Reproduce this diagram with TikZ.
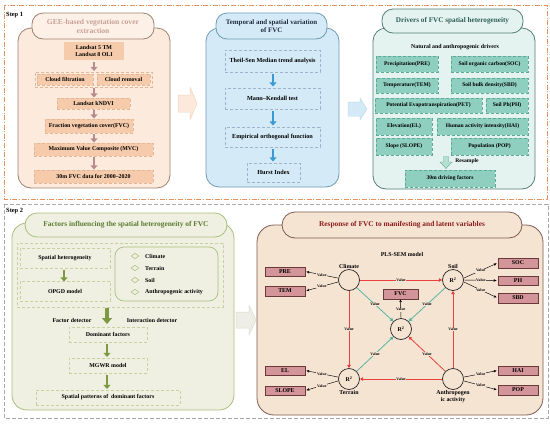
\documentclass[tikz,border=0pt]{standalone}
\usepackage{fontspec}
\setmainfont{Liberation Serif}
\usetikzlibrary{arrows.meta,shapes.geometric}
\definecolor{stepone}{HTML}{E8925E}
\definecolor{steptwo}{HTML}{A8A8A8}
\definecolor{pAfill}{HTML}{FCEBDD}
\definecolor{pAdraw}{HTML}{9E8070}
\definecolor{pAtitle}{HTML}{C8A095}
\definecolor{pAbox}{HTML}{F6CBAC}
\definecolor{pAboxd}{HTML}{E2B696}
\definecolor{pAarrow}{HTML}{B68C8E}
\definecolor{pBfill}{HTML}{D4EBF7}
\definecolor{pBdraw}{HTML}{6C9BB2}
\definecolor{pBboxd}{HTML}{9AB6C8}
\definecolor{pBarrow}{HTML}{3A9AD5}
\definecolor{pBtitle}{HTML}{1C2C3C}
\definecolor{pCfill}{HTML}{E4F3F0}
\definecolor{pCdraw}{HTML}{557E76}
\definecolor{pCtitle}{HTML}{2D5F55}
\definecolor{pCbox}{HTML}{8FCFBF}
\definecolor{pCboxd}{HTML}{5DAA98}
\definecolor{pCarrow}{HTML}{B5E0D0}
\definecolor{pDfill}{HTML}{EFF0E2}
\definecolor{pDdraw}{HTML}{A9BF7B}
\definecolor{pDtitle}{HTML}{5C7A2F}
\definecolor{pDboxd}{HTML}{C7D1A2}
\definecolor{pDarrow}{HTML}{7D9A43}
\definecolor{pEfill}{HTML}{F6E4D3}
\definecolor{pEdraw}{HTML}{7D5A50}
\definecolor{pEtitle}{HTML}{8A1B1B}
\definecolor{pEbox}{HTML}{D4959A}
\definecolor{pEboxd}{HTML}{6A3A3A}
\definecolor{tealline}{HTML}{4FB3A0}
\definecolor{redline}{HTML}{E8413C}
\definecolor{arrA}{HTML}{FDE9DC}
\definecolor{arrAd}{HTML}{F3D3BE}
\definecolor{arrB}{HTML}{D3EAF6}
\definecolor{arrBd}{HTML}{BEDCEC}
\definecolor{arrC}{HTML}{EEEEE6}
\definecolor{arrCd}{HTML}{DADACE}
\tikzset{
  every node/.style={font=\bfseries},
  txt/.style={inner sep=0pt, align=center},
  fsmall/.style={font=\bfseries\fontsize{5.9}{6.9}\selectfont},
  fthree/.style={font=\bfseries\fontsize{5.6}{6.6}\selectfont},
  ftwo/.style={font=\bfseries\fontsize{6.2}{7.2}\selectfont},
  fval/.style={font=\bfseries\fontsize{3.9}{4.5}\selectfont},
  panel/.style={rounded corners=13pt, line width=0.8pt},
  titlebox/.style={rounded corners=11pt, line width=0.8pt, inner sep=0pt, align=center},
  abox/.style={fill=pAbox, draw=pAboxd, densely dashed, line width=0.4pt, inner sep=0pt, align=center, fsmall},
  bbox/.style={draw=pBboxd, densely dashed, line width=0.4pt, inner sep=0pt, align=center, ftwo},
  cbox/.style={fill=pCbox, draw=pCboxd, densely dashed, line width=0.4pt, inner sep=0pt, align=center, fthree},
  dbox/.style={draw=pDboxd, densely dashed, line width=0.5pt, inner sep=0pt, align=center, fsmall},
  ebox/.style={fill=pEbox, draw=pEboxd, line width=0.5pt, inner sep=0pt, align=center, fsmall},
  downarr/.style={line width=2.8pt, -{Triangle[width=7pt,length=4.2pt]}},
  lv/.style={circle, draw=black!85, line width=0.7pt, minimum size=21pt, inner sep=0pt, fsmall},
  val/.style={fill=pEfill, inner sep=0.6pt, fval},
  blk/.style={draw=black, line width=0.45pt, -{Stealth[length=3pt,width=2.6pt]}},
  red/.style={draw=redline, line width=0.8pt, -{Triangle[length=3.2pt,width=3.4pt]}},
  teal/.style={draw=tealline, line width=0.75pt, -{Triangle[length=3.2pt,width=3.4pt]}},
}
\begin{document}
\begin{tikzpicture}[x=1pt,y=-1pt]
\useasboundingbox (0,0) rectangle (550,424);
\fill[white] (0,0) rectangle (550,424);

% ---------- Step frames ----------
\draw[stepone, line width=0.7pt, dash pattern=on 5pt off 1.6pt on 1pt off 1.6pt] (4,5) rectangle (547,199);
\node[txt, font=\bfseries\fontsize{6.4}{7}\selectfont, anchor=west] (s1) at (6,15) {Step 1};
\draw[steptwo, line width=0.7pt, dash pattern=on 4pt off 2pt] (4,204) rectangle (548,418);
\node[txt, font=\bfseries\fontsize{6.4}{7}\selectfont, anchor=west] (s2) at (6,211) {Step 2};

% ---------- Panel 1 ----------
\draw[panel, fill=pAfill, draw=pAdraw] (18,28) rectangle (170,188);
\node[titlebox, font=\bfseries\fontsize{7.6}{9}\selectfont, fill=pAfill!70!white, draw=pAdraw, text=pAtitle, minimum width=122pt, minimum height=26pt] (t1) at (93,26) {GEE-based vegetation cover\\extraction};
\node[abox, draw=none, minimum width=60pt, minimum height=18pt] (ls) at (94,51) {Landsat 5 TM\\Landsat 8 OLI};
\node[draw=pAboxd, densely dashed, line width=0.4pt, minimum width=117pt, minimum height=15pt, inner sep=0pt] (cl) at (93.5,79.5) {};
\node[abox, minimum width=56pt, minimum height=11pt] (cf) at (65,79.5) {Cloud filtration};
\node[abox, minimum width=53pt, minimum height=11pt] (cr) at (123.5,79.5) {Cloud removal};
\node[abox, minimum width=73pt, minimum height=11pt] (kn) at (93.5,103.5) {Landsat kNDVI};
\node[abox, minimum width=88pt, minimum height=14pt] (fv) at (89,126) {Fraction vegetation cover(FVC)};
\node[abox, minimum width=119pt, minimum height=13pt] (mv) at (93.5,149.5) {Maximum Value Composite (MVC)};
\node[abox, minimum width=119pt, minimum height=13pt] (fd) at (93.5,176.5) {30m FVC data for 2000--2020};
\draw[downarr, pAarrow] (94,61.5) -- (94,71);
\draw[downarr, pAarrow] (94,87.5) -- (94,97.5);
\draw[downarr, pAarrow] (94,109.5) -- (94,118.5);
\draw[downarr, pAarrow] (94,133.5) -- (94,142.5);
\draw[downarr, pAarrow] (94,156.5) -- (94,169.5);

% arrow 1 -> 2
\filldraw[fill=arrA, draw=arrAd, line width=0.5pt] (178,95) -- (190,95) -- (190,87) -- (197,103.5) -- (190,120) -- (190,112) -- (178,112) -- cycle;

% ---------- Panel 2 ----------
\draw[panel, fill=pBfill, draw=pBdraw] (206,28) rectangle (339,187);
\node[titlebox, font=\bfseries\fontsize{6.9}{8.3}\selectfont, fill=pBfill, draw=pBdraw, text=pBtitle, minimum width=111pt, minimum height=26pt] (t2) at (271.5,26) {Temporal and spatial variation\\of FVC};
\node[bbox, minimum width=95pt, minimum height=22pt] (ts) at (272.5,61) {Theil-Sen Median trend analysis};
\node[bbox, minimum width=95pt, minimum height=21pt] (mk) at (272.5,98.5) {Mann--Kendall test};
\node[bbox, minimum width=95pt, minimum height=20pt] (eo) at (272.5,137) {Empirical orthogonal function};
\node[bbox, minimum width=53pt, minimum height=19pt] (hu) at (273.5,172.5) {Hurst Index};
\draw[downarr, pBarrow] (273,73.5) -- (273,86.5);
\draw[downarr, pBarrow] (273,110.5) -- (273,125.5);
\draw[downarr, pBarrow] (273,148.5) -- (273,161.5);

% arrow 2 -> 3
\filldraw[fill=arrB, draw=arrBd, line width=0.5pt] (348,102) -- (360,102) -- (360,98) -- (367,109) -- (360,120) -- (360,116) -- (348,116) -- cycle;

% ---------- Panel 3 ----------
\draw[panel, fill=pCfill, draw=pCdraw] (373,28) rectangle (535,189);
\node[titlebox, font=\bfseries\fontsize{7.2}{8.4}\selectfont, fill=pCfill, draw=pCdraw, text=pCtitle, minimum width=141pt, minimum height=24pt] (t3) at (452.5,21) {Drivers of FVC spatial heterogeneity};
\node[txt, fsmall] (nd) at (455,47) {Natural and anthropogenic drivers};
\node[cbox, minimum width=62pt, minimum height=16pt] (pre3) at (407,64) {Precipitation(PRE)};
\node[cbox, minimum width=77pt, minimum height=16pt] (soc3) at (489.5,64) {Soil organic carbon(SOC)};
\node[cbox, minimum width=62pt, minimum height=15pt] (tem3) at (407,85.5) {Temperature(TEM)};
\node[cbox, minimum width=77pt, minimum height=15pt] (sbd3) at (489.5,85.5) {Soil bulk density(SBD)};
\node[cbox, minimum width=107pt, minimum height=15pt] (pet3) at (428.5,105.5) {Potential Evapotranspiration(PET)};
\node[cbox, minimum width=42pt, minimum height=15pt] (ph3) at (507,105.5) {Soil Ph(PH)};
\node[cbox, minimum width=56pt, minimum height=17pt] (el3) at (404,126.5) {Elevation(EL)};
\node[cbox, minimum width=91pt, minimum height=17pt] (hai3) at (482.5,126.5) {Human activity intensity(HAI)};
\node[cbox, minimum width=56pt, minimum height=17pt] (sl3) at (404,146.5) {Slope (SLOPE)};
\node[cbox, minimum width=77pt, minimum height=17pt] (pop3) at (489.5,146.5) {Population (POP)};
\node[cbox, minimum width=90pt, minimum height=17pt] (df) at (450,178.5) {30m driving factors};
\filldraw[fill=pCarrow, draw=pCboxd, line width=0.4pt] (443.5,156.5) -- (448.5,156.5) -- (448.5,162) -- (452,162) -- (446,168.5) -- (440,162) -- (443.5,162) -- cycle;
\node[txt, fthree] (rs) at (467,161.5) {Resample};

% ---------- Panel 4 ----------
\draw[panel, rounded corners=15pt, fill=pDfill, draw=pDdraw] (12,223) rectangle (234,410);
\node[titlebox, font=\bfseries\fontsize{7.4}{8.6}\selectfont, rounded corners=12pt, fill=pDfill, draw=pDdraw, text=pDtitle, minimum width=202pt, minimum height=24pt] (t4) at (126,225) {Factors influencing the spatial heterogeneity of FVC};
\node[draw=pDboxd, densely dashed, line width=0.5pt, minimum width=206pt, minimum height=64pt, inner sep=0pt] (bd) at (120,275) {};
\node[dbox, minimum width=90pt, minimum height=20pt] (sh) at (65,258) {Spatial heterogeneity};
\node[dbox, minimum width=90pt, minimum height=20pt] (op) at (65,291) {OPGD model};
\draw[downarr, pDarrow] (64,269.5) -- (64,281.5);
\draw[draw=pDdraw, line width=0.7pt, rounded corners=9pt] (115,247) rectangle (218,301);
\foreach \yy/\tt/\nn in {256/Climate/dc, 268/Terrain/dt, 280/Soil/ds, 292/Anthropogenic activity/da}{
  \node[diamond, draw=pDdraw, line width=0.5pt, minimum width=8pt, minimum height=5.5pt, inner sep=0pt, aspect=1.6] (\nn) at (135,\yy) {};
  \node[txt, fsmall, anchor=west] (\nn t) at (145,\yy) {\tt};
}
\draw[pDarrow, line width=4.6pt, -{Triangle[width=10pt,length=6pt]}] (107,307.5) -- (107,324);
\node[txt, fsmall] (fdt) at (72,320) {Factor detector};
\node[txt, fsmall] (idt) at (152,320) {Interaction detector};
\node[dbox, minimum width=78pt, minimum height=15pt] (dom) at (108,334.5) {Dominant factors};
\node[dbox, minimum width=78pt, minimum height=15pt] (mg) at (108,365.5) {MGWR model};
\node[dbox, minimum width=144pt, minimum height=15pt] (sp) at (108,397.5) {Spatial patterns of\ \ dominant factors};
\draw[downarr, pDarrow] (107,343.5) -- (107,357);
\draw[downarr, pDarrow] (107,374.5) -- (107,389);

% arrow 4 -> 5
\filldraw[fill=arrC, draw=arrCd, line width=0.5pt] (236,312) -- (249,312) -- (249,305) -- (256,320) -- (249,335) -- (249,328) -- (236,328) -- cycle;

% ---------- Panel 5 ----------
\draw[panel, rounded corners=17pt, fill=pEfill, draw=pEdraw] (257,225) rectangle (543,415);
\node[titlebox, font=\bfseries\fontsize{7.4}{8.6}\selectfont, rounded corners=13pt, fill=pEfill, draw=pEdraw, text=pEtitle, minimum width=240pt, minimum height=26pt] (t5) at (402,225) {Response of FVC to manifesting and latent variables};
\node[txt, fsmall] (pls) at (402,254) {PLS-SEM model};

\node[lv] (clim) at (349,280) {};
\node[lv] (soil) at (453,280) {R\textsuperscript{2}};
\node[lv] (cen) at (401,329) {R\textsuperscript{2}};
\node[lv] (terr) at (349,379) {R\textsuperscript{2}};
\node[lv] (anth) at (453,379) {};
\node[txt, fsmall, anchor=south] (climl) at (clim.north) {Climate};
\node[txt, fsmall, anchor=south] (soill) at (soil.north) {Soil};
\node[txt, fsmall, anchor=north] (terrl) at ([yshift=-0.5pt]terr.south) {Terrain};
\node[txt, fsmall, anchor=north] (anthl) at ([yshift=-0.5pt]anth.south) {Anthropogen\\ic activity};

\node[ebox, minimum width=35pt, minimum height=10pt] (fvc) at (400.5,294) {FVC};
\node[ebox, minimum width=40pt, minimum height=9.5pt] (pre) at (285,271.5) {PRE};
\node[ebox, minimum width=40pt, minimum height=9.5pt] (tem) at (285,291) {TEM};
\node[ebox, minimum width=40pt, minimum height=9.5pt] (el) at (285,370.5) {EL};
\node[ebox, minimum width=40pt, minimum height=9.5pt] (slope) at (285,390.5) {SLOPE};
\node[ebox, minimum width=40pt, minimum height=9.5pt] (soc) at (518,263) {SOC};
\node[ebox, minimum width=40pt, minimum height=9.5pt] (ph) at (518,280.5) {PH};
\node[ebox, minimum width=40pt, minimum height=9.5pt] (sbd) at (518,298) {SBD};
\node[ebox, minimum width=40pt, minimum height=9.5pt] (hai) at (518,370.5) {HAI};
\node[ebox, minimum width=40pt, minimum height=9.5pt] (pop) at (518,390) {POP};

% manifest arrows
\draw[blk, shorten >=1.2pt] (clim.170) -- node[val]{Value} (pre.east);
\draw[blk, shorten >=1.2pt] (clim.190) -- node[val]{Value} (tem.east);
\draw[blk, shorten >=1.2pt] (terr.170) -- node[val]{Value} (el.east);
\draw[blk, shorten >=1.2pt] (terr.190) -- node[val]{Value} (slope.east);
\draw[blk, shorten >=1.2pt] (soil.10) -- node[val]{Value} (soc.west);
\draw[blk, shorten >=1.2pt] (soil.0) -- node[val]{Value} (ph.west);
\draw[blk, shorten >=1.2pt] (soil.-10) -- node[val]{Value} (sbd.west);
\draw[blk, shorten >=1.2pt] (anth.10) -- node[val]{Value} (hai.west);
\draw[blk, shorten >=1.2pt] (anth.-10) -- node[val]{Value} (pop.west);
\draw[blk] (cen.north) -- node[val, pos=0.45]{Value} (fvc.south);

% structural paths
\draw[red] (clim.east) -- node[val]{Value} (soil.west);
\draw[red] (clim.south) -- node[val]{Value} (terr.north);
\draw[red] (anth.north) -- node[val]{Value} (soil.south);
\draw[red] (anth.west) -- node[val]{Value} (terr.east);
\draw[red] (anth.135) -- node[val]{Value} (cen.-45);
\draw[teal] (clim.-45) -- node[val]{Value} (cen.135);
\draw[teal] (soil.-135) -- node[val]{Value} (cen.45);
\draw[teal] (terr.45) -- node[val]{Value} (cen.-135);
\end{tikzpicture}
\end{document}
